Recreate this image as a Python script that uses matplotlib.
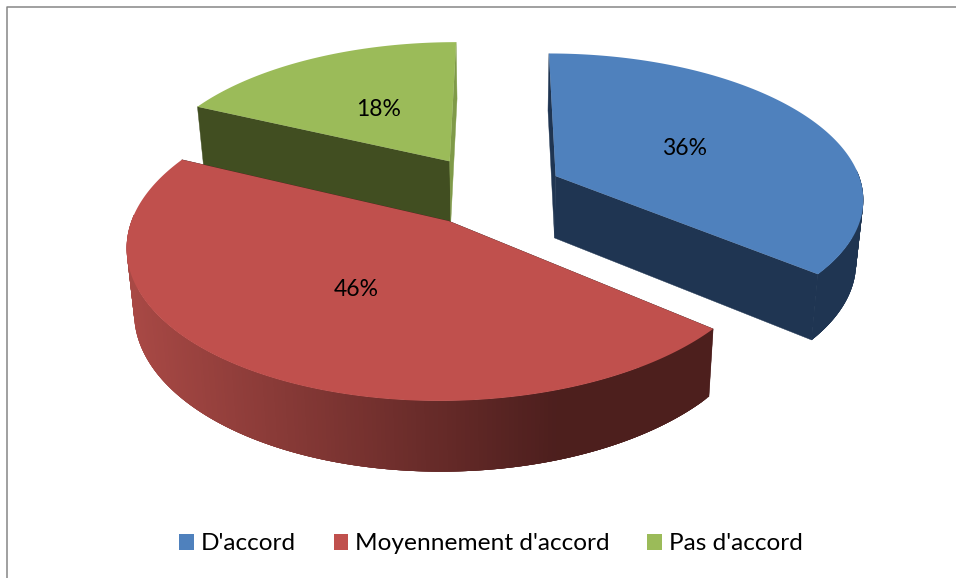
import numpy as np
import matplotlib
matplotlib.use("Agg")
import matplotlib.pyplot as plt
from matplotlib.collections import PolyCollection
from matplotlib.patches import Patch

plt.rcParams['font.family'] = ['Lato', 'DejaVu Sans']

labels = ["D'accord", "Moyennement d'accord", "Pas d'accord"]
values = [36, 46, 18]
top_colors = ['#4f81bd', '#c0504d', '#9bbb59']
wall_colors = ['#1f3552', '#4d1f1e', '#414e21']
end_wall_colors = ['#1f3552', '#4d1f1e', '#7f9a48']

# where each exploded slice has its tip, in units of the pie radius
tips = [(0.1767, 0.365), (-0.168, 0.058), (-0.175, 0.472)]

# fake 3d view, all in pixels of the 956x578 picture
cx, cy = 502, 230
rx, ry = 320, 155.8
persp = 0.15


def project(x, y):
    s = 1 / (1 + persp * y)
    return cx + rx * x * s, cy - ry * y * s


def drop(px, py):
    # point below (px, py) on the underside of the pie
    eta = (cy - py) / ry
    s = 1 - persp * eta
    return cx + (px - cx) * 0.98, py + 23 + 41 * s


def rim_color(x):
    t = np.clip((x - 130) / 430, 0, 1)
    a = np.array([0.66, 0.285, 0.27])
    b = np.array([0.30, 0.12, 0.115])
    return a + (b - a) * t


fig = plt.figure(figsize=(9.56, 5.78), dpi=100)
ax = fig.add_axes([0, 0, 1, 1])
ax.set_xlim(0, 956)
ax.set_ylim(578, 0)
ax.axis('off')

# chart frame
ax.plot([7.5, 7.5, 956], [578, 6.5, 6.5], color='#868686', lw=1.1, solid_capstyle='butt')

angles = np.cumsum([0] + values) / sum(values) * 2 * np.pi
order = [2, 0, 1]  # back to front

for i in order:
    t = np.linspace(angles[i], angles[i + 1], 240)
    tx, ty = tips[i]
    px, py = project(tx + np.sin(t), ty + np.cos(t))
    ax_, ay_ = project(tx, ty)
    qx, qy = drop(px, py)
    bx, by = drop(ax_, ay_)

    # radial walls
    ax.fill([px[0], ax_, bx, qx[0]], [py[0], ay_, by, qy[0]], color=wall_colors[i], lw=0.3)
    ax.fill([px[-1], ax_, bx, qx[-1]], [py[-1], ay_, by, qy[-1]], color=end_wall_colors[i], lw=0.3)

    # outer rim, only the part that faces the viewer
    # each quad overlaps the next ones so no seams show
    quads = []
    cols = []
    front = np.where(np.cos(t) < 0.05)[0]
    for k in front[:-1]:
        e = min(k + 4, front[-1])
        quads.append([(px[k], py[k]), (px[e], py[e]), (qx[e], qy[e]), (qx[k], qy[k])])
        if i == 1:
            cols.append(rim_color(px[k]))
        else:
            cols.append(matplotlib.colors.to_rgb(wall_colors[i]))
    if quads:
        ax.add_collection(PolyCollection(quads, facecolors=cols, edgecolors='none'))

    # top face
    ax.fill(np.r_[ax_, px], np.r_[ay_, py], color=top_colors[i], lw=0)

    # value label
    mid = (angles[i] + angles[i + 1]) / 2
    lx, ly = project(tx + 0.49 * np.sin(mid), ty + 0.49 * np.cos(mid))
    ax.text(lx, ly + 1, f"{values[i]}%", ha='center', va='center', fontsize=16.5, color='black')

handles = [Patch(facecolor=c, edgecolor='none') for c in top_colors]
ax.legend(handles, labels, loc='center', bbox_to_anchor=(491 / 956, 1 - 544 / 578), ncol=3,
          frameon=False, fontsize=17.6, handlelength=0.6, handleheight=0.6,
          handletextpad=0.28, columnspacing=1.54, borderpad=0, labelcolor='black')

fig.savefig('out.png', dpi=100)
